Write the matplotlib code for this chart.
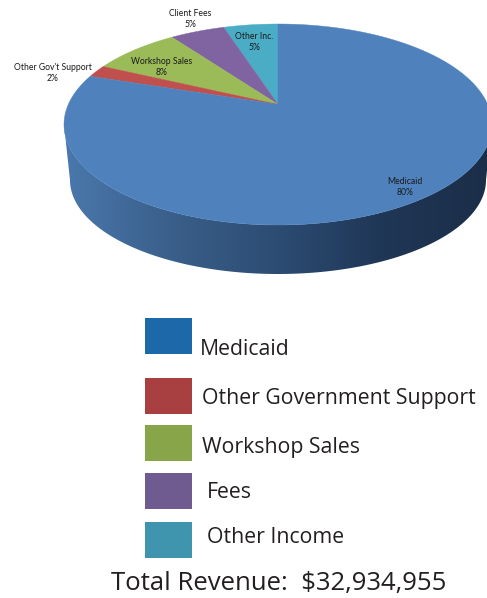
import numpy as np
import matplotlib
matplotlib.use('Agg')
import matplotlib.pyplot as plt
from matplotlib.patches import Polygon, Rectangle

# pie data, counter-clockwise from 12 o'clock
slice_names = ['Other Inc.', 'Client Fees', 'Workshop Sales', "Other Gov't Support", 'Medicaid']
slice_shares = [5, 5, 8, 2, 80]
slice_colors = ['#4bacc6', '#8064a2', '#9bbb59', '#c0504d', '#4f81bd']
label_xy = [(254, 42), (190, 19), (162, 67), (53, 73), (405, 187)]

legend_names = ['Medicaid', 'Other Government Support', 'Workshop Sales', 'Fees', 'Other Income']
legend_colors = ['#1c68a8', '#a84042', '#88a54a', '#6f5b8f', '#4095ae']
legend_tops = [318, 378, 425, 473, 522]
legend_text_xy = [(200, 355), (202, 404), (202, 453), (207, 498), (207, 543)]
total_text = 'Total Revenue:  $32,934,955'

CX, CY, RX, RY = 278, 124.5, 214, 100.5
TILT = 0.2


def project(theta):
    # circle point -> screen, with the tilt moving the apex up from the ellipse centre
    u = -np.sin(theta)
    v = np.cos(theta)
    d = 1 + TILT * v
    x = u * np.sqrt(1 - TILT ** 2) / d
    y = (v + TILT) / d
    return CX + RX * x, CY - RY * y


fig = plt.figure(figsize=(4.87, 5.98), dpi=100)
ax = fig.add_axes([0, 0, 1, 1])

# side wall
t = np.linspace(0, np.pi, 200)
upper = np.column_stack([CX - RX * np.cos(t), CY + RY * np.sin(t)])
lower = np.column_stack([CX - 208 * np.cos(t), 180 + 94 * np.sin(t)])
wall = Polygon(np.vstack([upper, lower[::-1]]), closed=True, fc='none', ec='none')
ax.add_patch(wall)
stops = np.array([[0x4a, 0x78, 0xad], [0x3a, 0x5f, 0x8a], [0x2c, 0x4c, 0x73], [0x1f, 0x36, 0x55], [0x1b, 0x2e, 0x48]]) / 255
xs = np.linspace(0, 1, 256)
grad = np.column_stack([np.interp(xs, np.linspace(0, 1, 5), stops[:, i]) for i in range(3)])
im = ax.imshow(grad[np.newaxis, :, :], extent=[64, 492, 280, 120], aspect='auto', zorder=1)
im.set_clip_path(wall)
ax.set_xlim(0, 487)
ax.set_ylim(598, 0)
ax.axis('off')

# top face
start = 0.0
total = sum(slice_shares)
for share, color in zip(slice_shares, slice_colors):
    end = start + share / total * 2 * np.pi
    th = np.linspace(start, end, max(int(share * 6), 12))
    px, py = project(th)
    ax.add_patch(Polygon(np.vstack([[CX, CY - RY * TILT], np.column_stack([px, py])]), closed=True,
                         fc=color, ec=color, lw=0.3, zorder=2))
    start = end

for name, share, (x, y) in zip(slice_names, slice_shares, label_xy):
    ax.text(x, y, f'{name}\n{share}%', ha='center', va='center', fontsize=6.2, family='Lato',
            color='#1a1a1a', linespacing=1.4, zorder=3)

# legend
for name, color, top, (x, y) in zip(legend_names, legend_colors, legend_tops, legend_text_xy):
    ax.add_patch(Rectangle((145, top), 47, 36, fc=color, ec='none'))
    ax.text(x, y, name, ha='left', va='baseline', fontsize=15.35, family='Open Sans', color='#231f20')

ax.text(111, 590, total_text, ha='left', va='baseline', fontsize=18.55, family='Open Sans', color='#231f20')

fig.savefig('out.png', dpi=100)
